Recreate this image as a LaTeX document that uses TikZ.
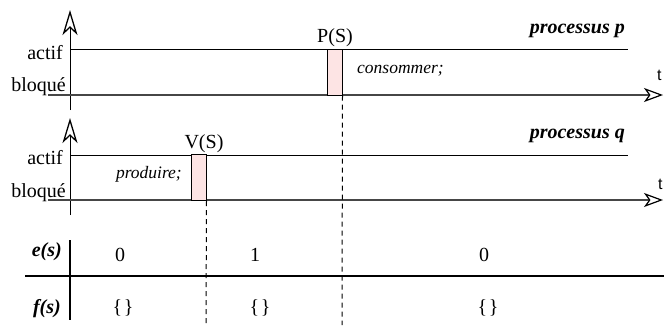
\documentclass[tikz,border=0pt]{standalone}
\usepackage{fontspec}
\setmainfont{Liberation Serif}
\setsansfont{Liberation Sans}
\usetikzlibrary{arrows.meta}
\definecolor{blocpink}{RGB}{253,228,228}
\definecolor{axisgray}{RGB}{70,70,70}
\newcommand{\queuevide}{\{\kern1.5pt\}}
\begin{document}
\begin{tikzpicture}[x=1pt,y=-1pt,
  lbl/.style={font=\fontsize{20}{22}\selectfont, inner sep=0pt},
  ital/.style={font=\fontsize{17.5}{20}\selectfont\itshape, inner sep=0pt},
  proc/.style={font=\fontsize{20}{22}\selectfont\bfseries\itshape, inner sep=0pt},
  tlbl/.style={font=\sffamily\fontsize{16}{18}\selectfont, inner sep=0pt},
  actifline/.style={line width=1pt, black},
  bloqline/.style={line width=1.8pt, axisgray,
    -{Stealth[open, length=19pt, width=14pt, inset=5pt, line width=1.2pt, black]}},
  vaxis/.style={line width=1pt, black,
    -{Stealth[open, length=25pt, width=15pt, inset=7pt, line width=1.3pt]}},
  section/.style={draw=black, line width=1pt, fill=blocpink, inner sep=0pt,
    minimum width=15pt, minimum height=46pt},
  sync/.style={line width=1pt, dash pattern=on 5pt off 4pt},
  tabline/.style={line width=1.2pt}]
\useasboundingbox (0,0) rectangle (664,325);

% ---------- process p ----------
\coordinate (pAxisBot) at (70,110);
\coordinate (pAxisTop) at (70,10);
\coordinate (pActL) at (70,49);
\coordinate (pActR) at (628,49);
\coordinate (pBlqL) at (48,95);
\coordinate (pBlqR) at (663,95);
\draw[vaxis] (pAxisBot) -- (pAxisTop);
\draw[actifline] (pActL) -- (pActR);
\draw[bloqline] (pBlqL) -- (pBlqR);
\node[lbl, anchor=base east] (pActif) at (63,59) {actif};
\node[lbl, anchor=base east] (pBloque) at (66,91) {bloqué};
\node[tlbl, anchor=base west] (pT) at (657,80) {t};
\node[proc, anchor=base east] (pName) at (625,33) {processus p};
\node[section] (boxP) at (334.5,72) {};
\node[lbl, anchor=base] (lblP) at (335,42) {P(S)};
\node[ital, anchor=base west] (consom) at (357,73) {consommer;};

% ---------- process q ----------
\coordinate (qAxisBot) at (70,215);
\coordinate (qAxisTop) at (70,118);
\coordinate (qActL) at (70,155);
\coordinate (qActR) at (628,155);
\coordinate (qBlqL) at (48,200);
\coordinate (qBlqR) at (663,200);
\draw[vaxis] (qAxisBot) -- (qAxisTop);
\draw[actifline] (qActL) -- (qActR);
\draw[bloqline] (qBlqL) -- (qBlqR);
\node[lbl, anchor=base east] (qActif) at (63,164) {actif};
\node[lbl, anchor=base east] (qBloque) at (66,197) {bloqué};
\node[tlbl, anchor=base west] (qT) at (658,189) {t};
\node[proc, anchor=base east] (qName) at (625,138) {processus q};
\node[section] (boxV) at (198.5,177.5) {};
\node[lbl, anchor=base] (lblV) at (204,148) {V(S)};
\node[ital, anchor=base east] (produ) at (182,178) {produire;};

% ---------- synchronisation markers ----------
\coordinate (vBottom) at (206,325);
\coordinate (pBottom) at (342,325);
\draw[sync] (boxV.south east) -- (vBottom);
\draw[sync] (boxP.south east) -- (pBottom);

% ---------- semaphore state table ----------
\coordinate (tabTop) at (70,240);
\coordinate (tabBot) at (70,320);
\coordinate (tabL) at (25,276);
\coordinate (tabR) at (664,276);
\draw[tabline] (tabTop) -- (tabBot);
\draw[tabline] (tabL) -- (tabR);
\node[proc, anchor=base east] (eS) at (62,256) {e(s)};
\node[proc, anchor=base east] (fS) at (61,313) {f(s)};
\node[lbl, anchor=base] (e1) at (120,261) {0};
\node[lbl, anchor=base] (e2) at (255,261) {1};
\node[lbl, anchor=base] (e3) at (484,261) {0};
\node[lbl, anchor=base] (f1) at (123,313) {\queuevide};
\node[lbl, anchor=base] (f2) at (260,313) {\queuevide};
\node[lbl, anchor=base] (f3) at (488,313) {\queuevide};
\end{tikzpicture}
\end{document}
